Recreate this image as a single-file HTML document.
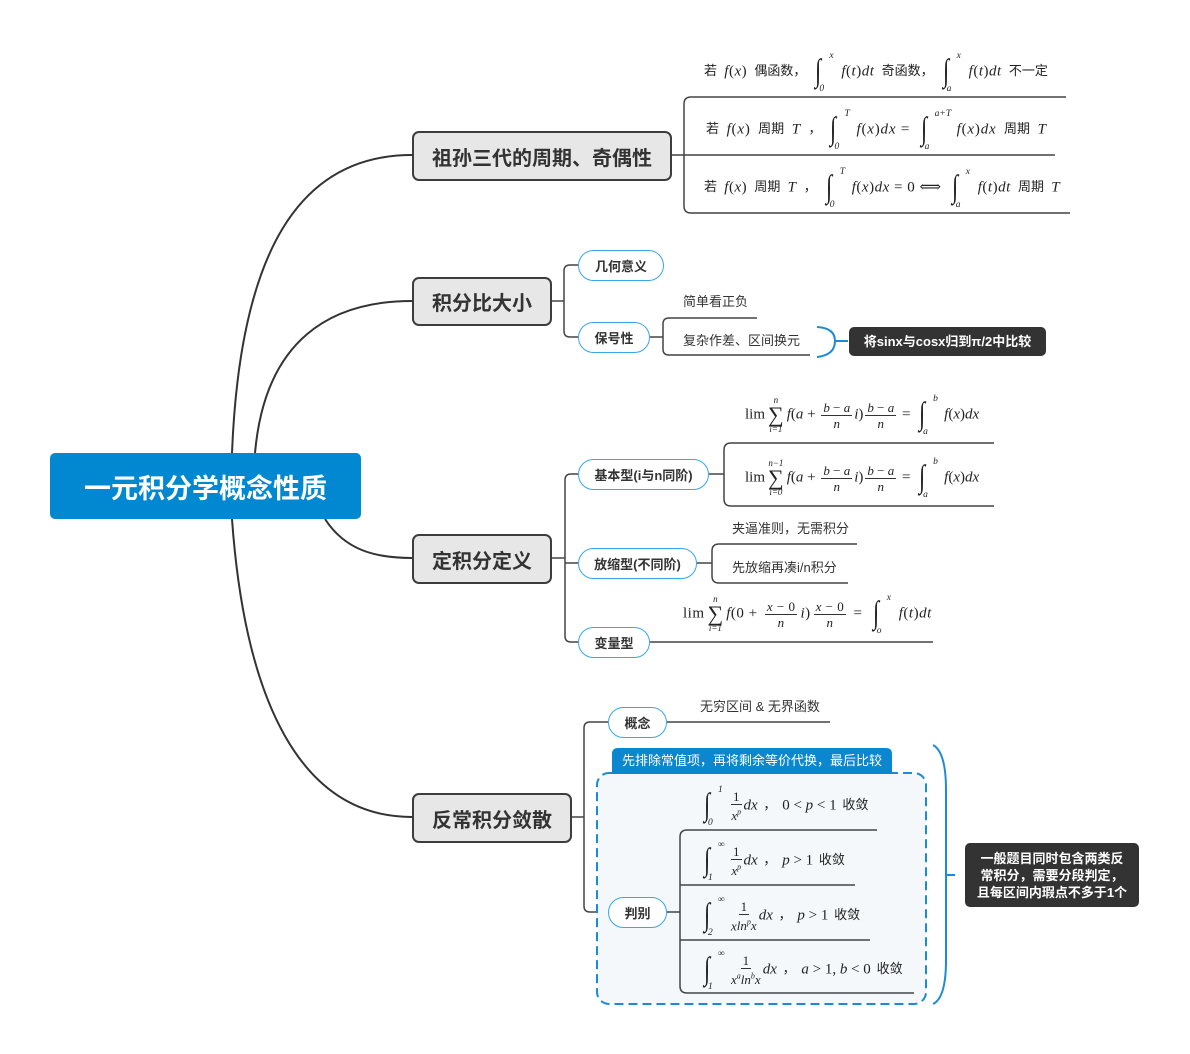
<!DOCTYPE html>
<html><head><meta charset="utf-8">
<style>
*{margin:0;padding:0}
body{width:1190px;height:1054px;background:#fff;position:relative;overflow:hidden;font-family:"Liberation Sans","Noto Sans CJK SC",sans-serif;color:#333}
svg.bg{position:absolute;left:0;top:0}
.n{position:absolute;box-sizing:border-box;border:2px solid #3d3d3d;border-radius:7px;background:#e7e7e7;font-weight:bold;font-size:20px;color:#333;display:flex;align-items:center;justify-content:center;white-space:nowrap}
.p{position:absolute;box-sizing:border-box;border:1.5px solid #37a6ea;border-radius:16px;background:#fff;font-weight:bold;font-size:13px;color:#333;display:flex;align-items:center;justify-content:center;white-space:nowrap}
.t{position:absolute;font-size:13px;color:#333;white-space:nowrap;line-height:16px}
.d{position:absolute;background:#333;border-radius:5px;color:#fff;font-weight:bold;font-size:13px;display:flex;align-items:center;justify-content:center;text-align:center;line-height:17px;white-space:nowrap}
.f{position:absolute;display:flex;align-items:center;height:44px;font-family:"Liberation Serif","DejaVu Serif","Noto Serif CJK SC",serif;font-size:15px;letter-spacing:0.5px;color:#222;white-space:nowrap}
.f i{font-style:italic}
.c{font-family:"Liberation Sans","Noto Sans CJK SC",sans-serif;font-size:13px;letter-spacing:0;margin:0 3px}
.I{position:relative;display:inline-block;width:22px;height:38px;vertical-align:middle;margin:0 4px 0 6px}
.I b{position:absolute;left:0;top:0;font-size:32px;font-weight:normal;font-style:italic;line-height:34px;font-family:"Liberation Serif","DejaVu Serif",serif;transform:scaleX(.7);transform-origin:left}
.I .u{position:absolute;left:14px;top:-2px;font-size:9.5px;font-style:italic;line-height:10px;letter-spacing:0}
.I .l{position:absolute;left:4px;bottom:-3px;font-size:9.5px;font-style:italic;line-height:10px}
.fr{display:inline-flex;flex-direction:column;align-items:center;vertical-align:middle;font-size:13px;line-height:15px;margin:0 3px}
.fr>span:first-child{border-bottom:1px solid #333;padding:0 2px}
.S{display:inline-flex;flex-direction:column;align-items:center;vertical-align:middle;margin:0 3px;letter-spacing:0}
.S .a{font-size:9px;font-style:italic;line-height:9px}
.S .s{font-size:22px;line-height:20px}
.q{letter-spacing:0}
.q .c{margin:0 2px}
.q .I{margin:0 3px 0 5px}
.q .fr{margin:0 2px}
</style></head><body>
<svg class="bg" width="1190" height="1054" viewBox="0 0 1190 1054">
<g fill="none" stroke="#333" stroke-width="2">
<path d="M232,453 C240,250 300,155 412,155"/>
<path d="M255,453 C265,340 330,301 412,301"/>
<path d="M325,519 C345,550 375,558 412,558"/>
<path d="M232,519 C245,700 300,817 412,817"/>
</g>
<g fill="none" stroke="#444" stroke-width="1.5">
<path d="M671,155 H1055"/>
<path d="M1066,97 H691 Q684,97 684,104 V206 Q684,213 691,213 H1070"/>
<path d="M551,301 H564"/>
<path d="M578,265 H570 Q564,265 564,271 V331 Q564,337 570,337 H578"/>
<path d="M650,337 H663"/>
<path d="M757,318 H669 Q663,318 663,324 V349 Q663,355 669,355 H810"/>
<path d="M551,558 H565"/>
<path d="M578,474 H571 Q565,474 565,480 V636 Q565,642 571,642 H578"/>
<path d="M565,563 H578"/>
<path d="M709,474 H724"/>
<path d="M994,443 H731 Q724,443 724,450 V499 Q724,506 731,506 H994"/>
<path d="M697,563 H712"/>
<path d="M857,544 H719 Q712,544 712,551 V576 Q712,583 719,583 H848"/>
<path d="M650,642 H933"/>
<path d="M571,817 H584"/>
<path d="M608,722 H590 Q584,722 584,728 V906 Q584,912 590,912 H608"/>
<path d="M667,722 H830"/>
</g>
<rect x="597" y="773" width="329" height="231" rx="12" fill="#f4f8fb" stroke="#1b8bd6" stroke-width="2" stroke-dasharray="9 5"/>
<path d="M612,774 V754 Q612,748 618,748 H886 Q892,748 892,754 V774 Z" fill="#0a87cf"/>
<g fill="none" stroke="#444" stroke-width="1.5">
<path d="M667,912 H680"/>
<path d="M877,830 H687 Q680,830 680,837 V986 Q680,993 687,993 H914"/>
<path d="M680,885 H855"/>
<path d="M680,940 H870"/>
</g>
<g fill="none" stroke="#1b8bd6" stroke-width="2">
<path d="M817,327 Q835,328 835,341 Q835,355 817,357"/>
<path d="M835,341 H848"/>
<path d="M933,745 Q946,752 946,790 V960 Q946,998 933,1004"/>
<path d="M946,875 H955"/>
</g>
</svg>

<div style="position:absolute;left:50px;top:453px;width:311px;height:66px;background:#0288d1;border-radius:5px;color:#fff;font-weight:bold;font-size:27px;display:flex;align-items:center;justify-content:center;white-space:nowrap">一元积分学概念性质</div>

<div class="n" style="left:412px;top:131px;width:260px;height:50px">祖孙三代的周期、奇偶性</div>
<div class="n" style="left:412px;top:277px;width:140px;height:49px">积分比大小</div>
<div class="n" style="left:412px;top:534px;width:140px;height:50px">定积分定义</div>
<div class="n" style="left:412px;top:793px;width:160px;height:50px">反常积分敛散</div>

<div class="p" style="left:578px;top:250px;width:86px;height:31px">几何意义</div>
<div class="p" style="left:578px;top:322px;width:72px;height:31px">保号性</div>
<div class="p" style="left:578px;top:459px;width:131px;height:31px">基本型(i与n同阶)</div>
<div class="p" style="left:578px;top:548px;width:119px;height:31px">放缩型(不同阶)</div>
<div class="p" style="left:578px;top:627px;width:72px;height:31px">变量型</div>
<div class="p" style="left:608px;top:707px;width:59px;height:31px">概念</div>
<div class="p" style="left:608px;top:897px;width:59px;height:31px">判别</div>

<div class="t" style="left:683px;top:294px">简单看正负</div>
<div class="t" style="left:683px;top:333px">复杂作差、区间换元</div>
<div class="d" style="left:849px;top:327px;width:197px;height:29px">将sinx与cosx归到π/2中比较</div>
<div class="t" style="left:732px;top:521px">夹逼准则，无需积分</div>
<div class="t" style="left:732px;top:560px">先放缩再凑i/n积分</div>
<div class="t" style="left:700px;top:699px">无穷区间 &amp; 无界函数</div>
<div class="t" style="left:622px;top:753px;color:#fff">先排除常值项，再将剩余等价代换，最后比较</div>
<div class="d" style="left:965px;top:843px;width:174px;height:64px;white-space:normal">一般题目同时包含两类反<br>常积分，需要分段判定，<br>且每区间内瑕点不多于1个</div>

<!-- node1 formulas -->
<div class="f" style="left:701px;top:50px"><span><span class="c">若</span> <i>f</i>(<i>x</i>) <span class="c">偶函数，</span><span class="I"><b>∫</b><span class="u">x</span><span class="l">0</span></span><i>f</i>(<i>t</i>)<i>dt</i> <span class="c">奇函数，</span><span class="I"><b>∫</b><span class="u">x</span><span class="l">a</span></span><i>f</i>(<i>t</i>)<i>dt</i> <span class="c">不一定</span></span></div>
<div class="f" style="left:703px;top:108px;letter-spacing:0.8px"><span><span class="c">若</span> <i>f</i>(<i>x</i>) <span class="c">周期</span> <i>T</i> <span class="c">，</span><span class="I"><b>∫</b><span class="u">T</span><span class="l">0</span></span><i>f</i>(<i>x</i>)<i>dx</i> = <span class="I" style="width:32px"><b>∫</b><span class="u">a+T</span><span class="l">a</span></span><i>f</i>(<i>x</i>)<i>dx</i> <span class="c">周期</span> <i>T</i></span></div>
<div class="f" style="left:701px;top:166px"><span><span class="c">若</span> <i>f</i>(<i>x</i>) <span class="c">周期</span> <i>T</i> <span class="c">，</span><span class="I"><b>∫</b><span class="u">T</span><span class="l">0</span></span><i>f</i>(<i>x</i>)<i>dx</i> = 0 ⟺ <span class="I"><b>∫</b><span class="u">x</span><span class="l">a</span></span><i>f</i>(<i>t</i>)<i>dt</i> <span class="c">周期</span> <i>T</i></span></div>

<!-- node3 formulas -->
<div class="f q" style="left:745px;top:393px"><span>lim<span class="S"><span class="a">n</span><span class="s">∑</span><span class="a">i=1</span></span><i>f</i>(<i>a</i> + <span class="fr"><span><i>b</i> − <i>a</i></span><span><i>n</i></span></span><i>i</i>)<span class="fr"><span><i>b</i> − <i>a</i></span><span><i>n</i></span></span> = <span class="I"><b>∫</b><span class="u">b</span><span class="l">a</span></span><i>f</i>(<i>x</i>)<i>dx</i></span></div>
<div class="f q" style="left:745px;top:456px"><span>lim<span class="S"><span class="a">n−1</span><span class="s">∑</span><span class="a">i=0</span></span><i>f</i>(<i>a</i> + <span class="fr"><span><i>b</i> − <i>a</i></span><span><i>n</i></span></span><i>i</i>)<span class="fr"><span><i>b</i> − <i>a</i></span><span><i>n</i></span></span> = <span class="I"><b>∫</b><span class="u">b</span><span class="l">a</span></span><i>f</i>(<i>x</i>)<i>dx</i></span></div>
<div class="f" style="left:683px;top:592px"><span>lim<span class="S"><span class="a">n</span><span class="s">∑</span><span class="a">i=1</span></span><i>f</i>(0 + <span class="fr"><span><i>x</i> − 0</span><span><i>n</i></span></span><i>i</i>)<span class="fr"><span><i>x</i> − 0</span><span><i>n</i></span></span> = <span class="I"><b>∫</b><span class="u">x</span><span class="l">o</span></span><i>f</i>(<i>t</i>)<i>dt</i></span></div>

<!-- node4 formulas -->
<div class="f q" style="left:699px;top:784px"><span><span class="I"><b>∫</b><span class="u">1</span><span class="l">0</span></span><span class="fr"><span>1</span><span><i>x<sup style="font-size:8px">p</sup></i></span></span><i>dx</i> <span class="c">，</span> 0 &lt; <i>p</i> &lt; 1 <span class="c">收敛</span></span></div>
<div class="f q" style="left:699px;top:839px"><span><span class="I"><b>∫</b><span class="u">∞</span><span class="l">1</span></span><span class="fr"><span>1</span><span><i>x<sup style="font-size:8px">p</sup></i></span></span><i>dx</i> <span class="c">，</span> <i>p</i> &gt; 1 <span class="c">收敛</span></span></div>
<div class="f q" style="left:699px;top:894px"><span><span class="I"><b>∫</b><span class="u">∞</span><span class="l">2</span></span><span class="fr"><span>1</span><span><i>x</i><i>ln<sup style="font-size:8px">p</sup>x</i></span></span><i>dx</i> <span class="c">，</span> <i>p</i> &gt; 1 <span class="c">收敛</span></span></div>
<div class="f q" style="left:699px;top:948px"><span><span class="I"><b>∫</b><span class="u">∞</span><span class="l">1</span></span><span class="fr"><span>1</span><span><i>x<sup style="font-size:8px">a</sup>ln<sup style="font-size:8px">b</sup>x</i></span></span><i>dx</i> <span class="c">，</span> <i>a</i> &gt; 1, <i>b</i> &lt; 0 <span class="c">收敛</span></span></div>
</body></html>
